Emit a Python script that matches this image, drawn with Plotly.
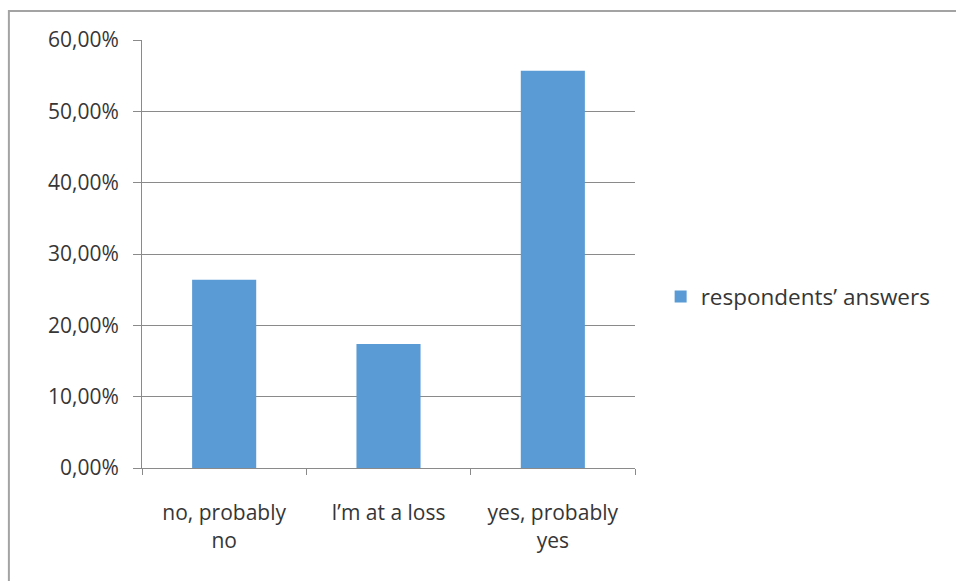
import plotly.graph_objects as go

categories = ["no, probably<br>no", "I’m at a loss", "yes, probably<br>yes"]
values = [0.264, 0.174, 0.557]
series_name = "respondents’ answers"
y_ticks = [0.0, 0.1, 0.2, 0.3, 0.4, 0.5, 0.6]

FONT = "Open Sans"
TXT = "#363636"
GRID = "#8a8a8a"

fig = go.Figure()
fig.add_trace(go.Bar(
    x=categories, y=values, name=series_name,
    marker=dict(color="#5b9bd5", line=dict(width=0)),
    showlegend=True,
))

fig.update_layout(
    width=956, height=581,
    margin=dict(l=142, r=321, t=40, b=113),
    paper_bgcolor="white", plot_bgcolor="white",
    separators=",.",
    bargap=0.61,
    font=dict(family=FONT, size=21, color=TXT),
    legend=dict(x=1.052, y=0.40, xanchor="left", yanchor="middle",
                font=dict(family=FONT, size=22.5, color=TXT),
                bgcolor="rgba(0,0,0,0)", itemwidth=30),
    shapes=[dict(type="rect", xref="paper", yref="paper",
                 x0=-0.27, x1=1.8, y0=-0.6, y1=1.068,
                 line=dict(color="#a3a3a3", width=2), layer="below")],
)

fig.update_xaxes(
    showline=True, linecolor=GRID, linewidth=1,
    ticks="outside", ticklen=6, tickcolor=GRID, tickson="boundaries",
    showgrid=False, tickfont=dict(family=FONT, size=21, color=TXT),
    ticklabelstandoff=26,
)
fig.update_yaxes(
    range=[0, 0.6], tickvals=y_ticks, tickformat=".2%",
    showline=True, linecolor=GRID, linewidth=1,
    ticks="outside", ticklen=8, tickcolor=GRID,
    showgrid=True, gridcolor=GRID, gridwidth=1,
    zeroline=False, tickfont=dict(family=FONT, size=21, color=TXT),
    ticklabelstandoff=10,
)

fig.write_html("out.html")
